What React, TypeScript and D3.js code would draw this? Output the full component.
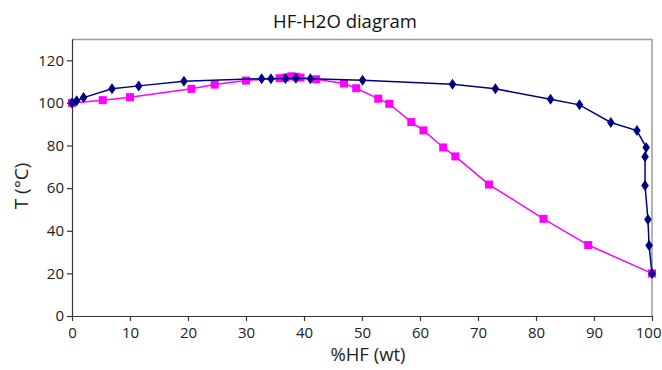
import { axisBottom, axisLeft, line, scaleLinear, select } from "d3";
import { useEffect, useRef } from "react";

// liquid / vapour curves (x = %HF wt, y = T °C)
const blueX = [0, 0.8, 2, 6.9, 11.5, 19.3, 32.7, 34.3, 36.8, 38.6, 41.1, 50.1, 65.6, 73, 82.5, 87.5, 92.9, 97.4, 99, 98.8, 98.8, 99.3, 99.5, 100];
const blueY = [100, 101, 102.5, 106.6, 108, 110.2, 111.4, 111.4, 111.5, 111.6, 111.4, 110.6, 108.8, 106.6, 101.7, 99.1, 90.8, 87, 79.1, 74.7, 61.3, 45.3, 33.1, 20];

const pinkX = [0, 5.3, 10, 20.6, 24.6, 30, 35.8, 36.8, 37.8, 38.6, 39.4, 42.1, 46.9, 49, 52.8, 54.7, 58.5, 60.6, 64, 66.1, 71.9, 81.3, 89, 100];
const pinkY = [100, 101.3, 102.7, 106.6, 108.6, 110.5, 111.6, 111.9, 112.5, 112.3, 111.9, 111.1, 109.1, 106.9, 102, 99.6, 91, 87.1, 79.1, 74.9, 61.7, 45.6, 33.3, 20];

const xTicks = [0, 10, 20, 30, 40, 50, 60, 70, 80, 90, 100];
const yTicks = [0, 20, 40, 60, 80, 100, 120];

const W = 662;
const H = 370;
const margin = { top: 39, right: 10, bottom: 54, left: 72 };
const font = "'Open Sans', sans-serif";

export default function App() {
  const svgRef = useRef<SVGSVGElement | null>(null);

  useEffect(() => {
    if (!svgRef.current) return;
    const svg = select(svgRef.current);
    svg.selectAll("*").remove();

    const innerW = W - margin.left - margin.right;
    const innerH = H - margin.top - margin.bottom;
    const x = scaleLinear().domain([0, 100]).range([0, innerW]);
    const y = scaleLinear().domain([0, 130]).range([innerH, 0]);

    svg
      .append("text")
      .attr("x", 345)
      .attr("y", 28)
      .attr("text-anchor", "middle")
      .attr("font-family", font)
      .attr("font-size", 18.5)
      .attr("fill", "#111")
      .text("HF-H2O diagram");

    const g = svg.append("g").attr("transform", `translate(${margin.left},${margin.top})`);

    // grey frame on top and right
    g.append("path")
      .attr("d", `M0,0.5H${innerW}V${innerH}`)
      .attr("fill", "none")
      .attr("stroke", "#9a9a9a")
      .attr("stroke-width", 1.5);

    const xAxis = g
      .append("g")
      .attr("transform", `translate(0,${innerH})`)
      .call(axisBottom(x).tickValues(xTicks).tickSize(5).tickSizeOuter(0));
    const yAxis = g.append("g").call(axisLeft(y).tickValues(yTicks).tickSize(5).tickSizeOuter(0));

    for (const ax of [xAxis, yAxis]) {
      ax.selectAll("path,line").attr("stroke", "#333").attr("stroke-width", 1.2);
      ax.selectAll("text").attr("font-family", font).attr("font-size", 15).attr("fill", "#222");
    }
    xAxis.selectAll("text").attr("dy", "0.95em");
    // keep "100" inside the picture
    xAxis
      .selectAll<SVGTextElement, number>("text")
      .filter((d) => d === 100)
      .attr("text-anchor", "end")
      .attr("x", 9);
    yAxis.selectAll("text").attr("x", -8);

    const pts = (xs: number[], ys: number[]) => xs.map((v, i) => [v, ys[i]] as [number, number]);
    const blue = pts(blueX, blueY);
    const pink = pts(pinkX, pinkY);
    const path = line<[number, number]>()
      .x((d) => x(d[0]))
      .y((d) => y(d[1]));

    g.append("path").attr("d", path(pink)).attr("fill", "none").attr("stroke", "#ff00ff").attr("stroke-width", 1.5);
    g.selectAll("rect.pt")
      .data(pink)
      .join("rect")
      .attr("x", (d) => x(d[0]) - 4)
      .attr("y", (d) => y(d[1]) - 4)
      .attr("width", 8)
      .attr("height", 8)
      .attr("fill", "#ff00ff");

    g.append("path").attr("d", path(blue)).attr("fill", "none").attr("stroke", "#000080").attr("stroke-width", 1.5);
    g.selectAll("path.dia")
      .data(blue)
      .join("path")
      .attr("class", "dia")
      .attr("d", (d) => {
        const cx = x(d[0]);
        const cy = y(d[1]);
        return `M${cx},${cy - 5.5}L${cx + 3.8},${cy}L${cx},${cy + 5.5}L${cx - 3.8},${cy}Z`;
      })
      .attr("fill", "#000080");

    svg
      .append("text")
      .attr("x", 368)
      .attr("y", 361)
      .attr("text-anchor", "middle")
      .attr("font-family", font)
      .attr("font-size", 18.5)
      .attr("fill", "#222")
      .text("%HF (wt)");

    svg
      .append("text")
      .attr("transform", `translate(28,186) rotate(-90)`)
      .attr("text-anchor", "middle")
      .attr("font-family", font)
      .attr("font-size", 19)
      .attr("fill", "#222")
      .text("T (°C)");
  }, []);

  return (
    <svg
      ref={svgRef}
      width={W}
      height={H}
      style={{ position: "fixed", top: 0, left: 0, display: "block", background: "#fff" }}
      role="img"
      aria-label="HF-H2O diagram"
    />
  );
}
